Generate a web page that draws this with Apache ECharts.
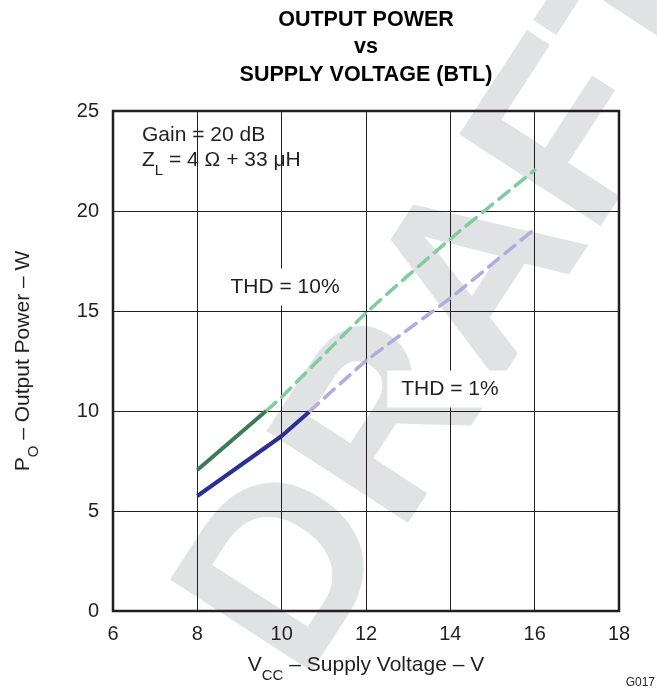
<!DOCTYPE html>
<html><head><meta charset="utf-8">
<script src="https://cdn.jsdelivr.net/npm/echarts@6/dist/echarts.min.js"></script>
<style>html,body{margin:0;padding:0;background:#fff}#c{width:657px;height:692px}</style>
</head><body><div id="c"></div>
<script>
// ---- data ----
const xTickValues = [6, 8, 10, 12, 14, 16, 18];
const yTickValues = [0, 5, 10, 15, 20, 25];

const vccThd10Solid = [8, 9.63];
const poThd10Solid  = [7.05, 10.0];
const vccThd10Dash  = [9.63, 10, 12, 14, 16];
const poThd10Dash   = [10.0, 10.7, 14.9, 18.6, 22.05];

const vccThd1Solid = [8, 10, 10.65];
const poThd1Solid  = [5.75, 8.75, 9.95];
const vccThd1Dash  = [10.65, 12, 14, 16];
const poThd1Dash   = [9.95, 12.5, 15.65, 19.1];

const titleLines = ['OUTPUT POWER', 'vs', 'SUPPLY VOLTAGE (BTL)'];

const FONT = '"Liberation Sans", Arial, Helvetica, sans-serif';
const INK = '#231f20';

function pairs(xs, ys) { return xs.map((x, i) => [x, ys[i]]); }

const rich = {
  m: { fontSize: 21, fontFamily: FONT, color: INK, fill: INK, lineHeight: 24, verticalAlign: 'top' },
  s: { fontSize: 15, fontFamily: FONT, color: INK, fill: INK, lineHeight: 15, padding: [13, 0, 0, 0], verticalAlign: 'top' }
};

const chart = echarts.init(document.getElementById('c'), null, { renderer: 'canvas' });

const graphic = [
  { type: 'text', z: -10, x: 472, y: 300, rotation: 57 * Math.PI / 180,
    style: { text: 'DRAFT', fontSize: 245, fontWeight: 'bold', fontFamily: FONT, fill: '#e1e2e4', align: 'center', verticalAlign: 'middle' } },
];
titleLines.forEach((t, i) => {
  graphic.push({ type: 'text', z: 10, x: 366, y: 20 + i * 27.5,
    style: { text: t, fontSize: 21.5, fontWeight: 'bold', fontFamily: FONT, fill: '#000', align: 'center', verticalAlign: 'middle' } });
});
graphic.push(
  { type: 'text', z: 10, x: 142, y: 135,
    style: { text: 'Gain = 20 dB', fontSize: 21, fontFamily: FONT, fill: INK, align: 'left', verticalAlign: 'middle' } },
  { type: 'text', z: 10, x: 142, y: 150,
    style: { text: '{m|Z}{s|L}{m| = 4 Ω + 33 μH}', rich: rich, align: 'left', verticalAlign: 'top' } },
  { type: 'text', z: 10, x: 285, y: 287,
    style: { text: 'THD = 10%', fontSize: 21, fontFamily: FONT, fill: INK, align: 'center', verticalAlign: 'middle', backgroundColor: '#fff', padding: [8, 8] } },
  { type: 'text', z: 10, x: 450, y: 389,
    style: { text: 'THD = 1%', fontSize: 21, fontFamily: FONT, fill: INK, align: 'center', verticalAlign: 'middle', backgroundColor: '#fff', padding: [8, 14] } },
  { type: 'text', z: 10, x: 366, y: 655,
    style: { text: '{m|V}{s|CC}{m| – Supply Voltage – V}', rich: rich, align: 'center', verticalAlign: 'top' } },
  { type: 'text', z: 10, x: 13, y: 361, rotation: Math.PI / 2,
    style: { text: '{m|P}{s|O}{m| – Output Power – W}', rich: rich, align: 'center', verticalAlign: 'top' } },
  { type: 'text', z: 10, x: 655, y: 683,
    style: { text: 'G017', fontSize: 12, fontFamily: FONT, fill: INK, align: 'right', verticalAlign: 'middle' } }
);

const solidW = 4, dashW = 3.5;
chart.setOption({
  animation: false,
  backgroundColor: '#fff',
  grid: { left: 113, right: 38, top: 111, bottom: 81, show: true, borderColor: INK, borderWidth: 2.5, backgroundColor: 'transparent' },
  xAxis: {
    type: 'value', min: xTickValues[0], max: xTickValues[xTickValues.length - 1], interval: 2,
    axisLine: { show: false }, axisTick: { show: false },
    splitLine: { show: true, lineStyle: { color: INK, width: 1 } },
    axisLabel: { fontSize: 20, fontFamily: FONT, color: INK, margin: 13 }
  },
  yAxis: {
    type: 'value', min: yTickValues[0], max: yTickValues[yTickValues.length - 1], interval: 5,
    axisLine: { show: false }, axisTick: { show: false },
    splitLine: { show: true, lineStyle: { color: INK, width: 1 } },
    axisLabel: { fontSize: 20, fontFamily: FONT, color: INK, margin: 14 }
  },
  graphic: graphic,
  series: [
    { type: 'line', data: pairs(vccThd10Dash, poThd10Dash), showSymbol: false, smooth: 0.2, z: 3,
      lineStyle: { color: '#7fcc9e', width: dashW, type: [13, 8], cap: 'round' } },
    { type: 'line', data: pairs(vccThd1Dash, poThd1Dash), showSymbol: false, smooth: 0.2, z: 3,
      lineStyle: { color: '#b2abdd', width: dashW, type: [13, 8], cap: 'round' } },
    { type: 'line', data: pairs(vccThd10Solid, poThd10Solid), showSymbol: false, z: 4,
      lineStyle: { color: '#3d7a57', width: solidW } },
    { type: 'line', data: pairs(vccThd1Solid, poThd1Solid), showSymbol: false, z: 4,
      lineStyle: { color: '#2b2f94', width: solidW } }
  ]
});
</script></body></html>
